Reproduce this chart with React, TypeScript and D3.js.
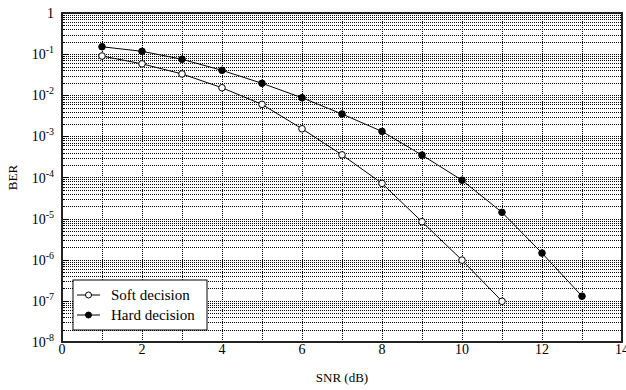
import { useEffect, useRef } from 'react'
import * as d3 from 'd3'

const snr = [1, 2, 3, 4, 5, 6, 7, 8, 9, 10, 11, 12, 13]
const softBer = [0.09, 0.058, 0.033, 0.0152, 0.006, 1.53e-3, 3.55e-4, 7.2e-5, 8.4e-6, 9.8e-7, 9.8e-8]
const hardBer = [0.151, 0.117, 0.075, 0.0403, 0.0195, 8.7e-3, 3.5e-3, 1.32e-3, 3.5e-4, 8.6e-5, 1.42e-5, 1.45e-6, 1.3e-7]
const xTicks = [0, 2, 4, 6, 8, 10, 12, 14]
const yExponents = [0, -1, -2, -3, -4, -5, -6, -7, -8]
const seriesNames = ['Soft decision', 'Hard decision']

export default function App() {
  const svgRef = useRef<SVGSVGElement>(null)

  useEffect(() => {
    if (!svgRef.current) return
    const svg = d3.select(svgRef.current)
    svg.selectAll('*').remove()

    const width = 626
    const height = 390
    const margin = { top: 13, right: 4, bottom: 48, left: 62 }
    const innerWidth = width - margin.left - margin.right
    const innerHeight = height - margin.top - margin.bottom
    const font = '"Liberation Serif", "Times New Roman", serif'

    svg.attr('width', width).attr('height', height)

    const g = svg.append('g').attr('transform', `translate(${margin.left},${margin.top})`)

    const x = d3.scaleLinear().domain([0, 14]).range([0, innerWidth])
    const y = d3.scaleLog().domain([1e-8, 1]).range([innerHeight, 0])

    g.append('rect')
      .attr('width', innerWidth)
      .attr('height', innerHeight)
      .attr('fill', '#fff')

    // horizontal grid at every minor decade value
    const minor: number[] = []
    for (let e = -8; e < 0; e++) {
      for (let m = 1; m <= 9; m++) minor.push(m * Math.pow(10, e))
    }
    g.append('g')
      .selectAll('line')
      .data(minor.filter(v => v > 1e-8))
      .join('line')
      .attr('x1', 0)
      .attr('x2', innerWidth)
      .attr('y1', d => Math.round(y(d)) + 0.5)
      .attr('y2', d => Math.round(y(d)) + 0.5)
      .attr('stroke', '#000')
      .attr('stroke-width', 1)
      .attr('stroke-dasharray', '1,1')

    // vertical grid at every integer snr
    g.append('g')
      .selectAll('line')
      .data(d3.range(1, 14))
      .join('line')
      .attr('x1', d => Math.round(x(d)) + 0.5)
      .attr('x2', d => Math.round(x(d)) + 0.5)
      .attr('y1', 0)
      .attr('y2', innerHeight)
      .attr('stroke', '#000')
      .attr('stroke-width', 1)
      .attr('stroke-dasharray', '1,1')

    // minor ticks on the left axis
    g.append('g')
      .selectAll('line')
      .data(minor)
      .join('line')
      .attr('x1', 0)
      .attr('x2', d => (Math.abs(Math.log10(d) - Math.round(Math.log10(d))) < 1e-9 ? 6 : 3))
      .attr('y1', d => Math.round(y(d)) + 0.5)
      .attr('y2', d => Math.round(y(d)) + 0.5)
      .attr('stroke', '#000')

    // frame
    g.append('rect')
      .attr('width', innerWidth)
      .attr('height', innerHeight)
      .attr('fill', 'none')
      .attr('stroke', '#222')
      .attr('stroke-width', 2)

    // curves
    const line = d3.line<[number, number]>()
      .x(d => x(d[0]))
      .y(d => y(d[1]))

    const series = [
      { name: seriesNames[0], values: softBer, fill: '#fff' },
      { name: seriesNames[1], values: hardBer, fill: '#000' },
    ]

    series.forEach(s => {
      const pts: [number, number][] = s.values.map((v, i) => [snr[i], v])
      g.append('path')
        .datum(pts)
        .attr('d', line)
        .attr('fill', 'none')
        .attr('stroke', '#000')
        .attr('stroke-width', 1)
      g.append('g')
        .selectAll('circle')
        .data(pts)
        .join('circle')
        .attr('cx', d => x(d[0]))
        .attr('cy', d => y(d[1]))
        .attr('r', 3.3)
        .attr('fill', s.fill)
        .attr('stroke', '#000')
        .attr('stroke-width', 1)
    })

    // x tick labels
    g.append('g')
      .selectAll('text')
      .data(xTicks)
      .join('text')
      .attr('x', d => x(d))
      .attr('y', innerHeight + 12)
      .attr('text-anchor', 'middle')
      .attr('font-family', font)
      .attr('font-size', 14)
      .text(d => String(d))

    // y tick labels
    const yl = g.append('g')
    yExponents.forEach(e => {
      const t = yl.append('text')
        .attr('x', -8)
        .attr('y', y(Math.pow(10, e)) + 5)
        .attr('text-anchor', 'end')
        .attr('font-family', font)
        .attr('font-size', 14)
      if (e === 0) {
        t.text('1')
      } else {
        t.append('tspan').text('10')
        t.append('tspan').attr('dy', -6).attr('font-size', 10).text(String(e))
      }
    })

    // axis titles
    svg.append('text')
      .attr('x', margin.left + innerWidth / 2)
      .attr('y', 382)
      .attr('text-anchor', 'middle')
      .attr('font-family', font)
      .attr('font-size', 13)
      .text('SNR (dB)')

    svg.append('text')
      .attr('transform', `translate(17,${margin.top + innerHeight / 2}) rotate(-90)`)
      .attr('text-anchor', 'middle')
      .attr('font-family', font)
      .attr('font-size', 13)
      .text('BER')

    // legend
    const legend = svg.append('g').attr('transform', 'translate(73,280)')
    legend.append('rect')
      .attr('width', 134)
      .attr('height', 50)
      .attr('fill', '#fff')
      .attr('stroke', '#000')
      .attr('stroke-width', 1)
    series.forEach((s, i) => {
      const ly = 15 + i * 20
      legend.append('line')
        .attr('x1', 4)
        .attr('x2', 27)
        .attr('y1', ly)
        .attr('y2', ly)
        .attr('stroke', '#000')
      legend.append('circle')
        .attr('cx', 15.5)
        .attr('cy', ly)
        .attr('r', 3)
        .attr('fill', s.fill)
        .attr('stroke', '#000')
      legend.append('text')
        .attr('x', 38)
        .attr('y', ly + 5)
        .attr('font-family', font)
        .attr('font-size', 15)
        .text(s.name)
    })
  }, [])

  return <svg ref={svgRef} style={{ position: 'absolute', left: 0, top: 0, display: 'block' }} />
}
